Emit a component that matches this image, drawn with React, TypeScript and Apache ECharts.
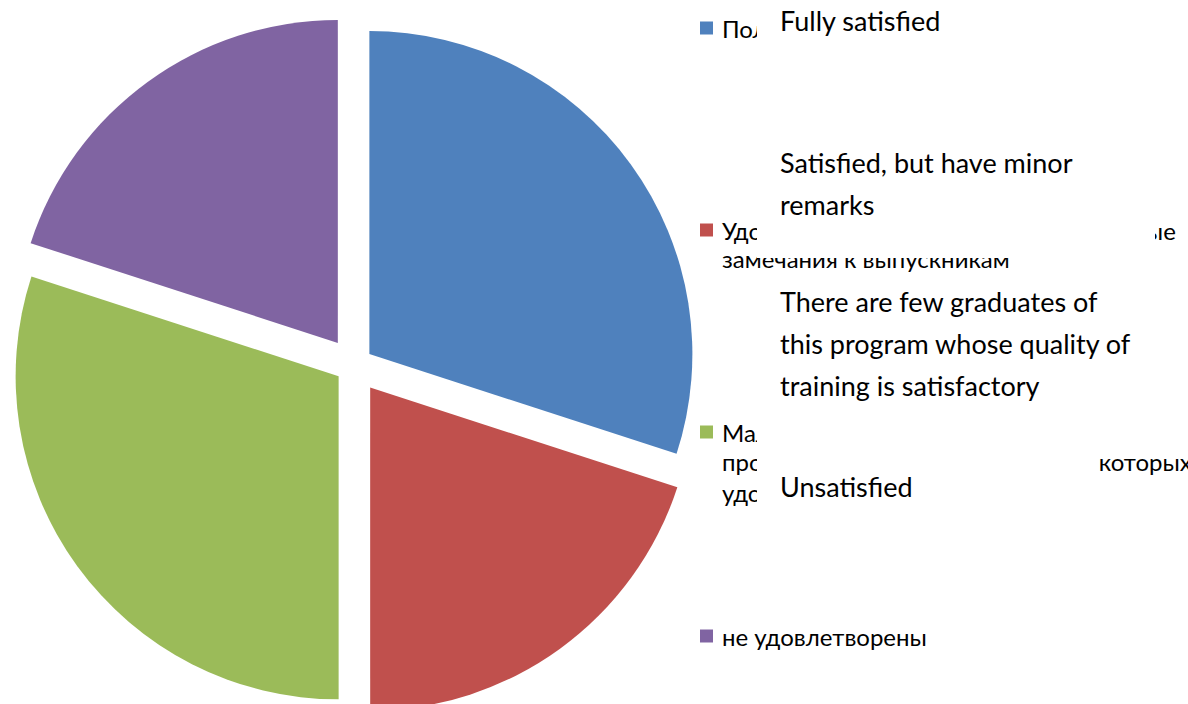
import React, { useEffect, useRef } from 'react';
import * as echarts from 'echarts';

// ---- data ----
const categories = [
  'Полностью удовлетворены',
  'Удовлетворены, но есть незначительные замечания к выпускникам',
  'Мало выпускников данной программы, качество подготовки которых удовлетворяет всем требованиям',
  'не удовлетворены',
];
const legendLines = [
  ['Полностью удовлетворены'],
  ['Удовлетворены, но есть незначительные', 'замечания к выпускникам'],
  ['Мало выпускников данной', 'программы, качество подготовки которых', 'удовлетворяет всем требованиям'],
  ['не удовлетворены'],
];
const values = [30, 20, 30, 20];
const colors = ['#4F81BD', '#C0504D', '#9BBB59', '#8064A2'];
const explode = [19, 27.5, 19, 27.5];
const englishLabels = [
  'Fully satisfied',
  'Satisfied, but have minor\nremarks',
  'There are few graduates of\nthis program whose quality of\ntraining is satisfactory',
  'Unsatisfied',
];

const FONT = "Lato, 'Noto Sans', sans-serif";
const LEG_SIZE = 24;

export default function App() {
  const ref = useRef<HTMLDivElement>(null);
  useEffect(() => {
    if (!ref.current) return;
    const chart = echarts.init(ref.current, undefined, { renderer: 'svg' });

    const offsets = Array.from(new Set(explode));
    const series = offsets.map((o) => ({
      type: 'pie',
      center: [354, 365.2],
      radius: 323,
      startAngle: 90,
      clockwise: true,
      silent: true,
      selectedMode: 'multiple',
      selectedOffset: o,
      avoidLabelOverlap: false,
      label: { show: false },
      labelLine: { show: false },
      emphasis: { disabled: true },
      itemStyle: { borderWidth: 0 },
      data: categories.map((c, i) =>
        explode[i] === o
          ? { name: c, value: values[i], selected: true, itemStyle: { color: colors[i], borderWidth: 0 } }
          : { name: '_hidden_' + i, value: values[i], itemStyle: { color: 'rgba(0,0,0,0)', borderWidth: 0 } }
      ),
    }));

    // one legend per entry so each can sit at its own slot
    const iconCenters = [28, 230, 432, 636];
    const legends = categories.map((c, i) => ({
      orient: 'vertical',
      left: 700,
      top: iconCenters[i] - LEG_SIZE / 2,
      padding: 0,
      itemWidth: 13,
      itemHeight: 13,
      icon: 'rect',
      selectedMode: false,
      data: [{ name: c, itemStyle: { color: colors[i] } }],
      formatter: (name: string) => legendLines[categories.indexOf(name)][0],
      textStyle: {
        fontFamily: FONT,
        fontSize: LEG_SIZE,
        color: '#000',
        lineHeight: LEG_SIZE,
        padding: [0, 0, 0, 4],
      },
    }));

    const graphics: any[] = [];
    // continuation lines of legend texts
    const contCenters = [[], [258.7], [461.7, 492.7], []];
    legendLines.forEach((lines, i) => {
      lines.slice(1).forEach((ln, j) => {
        graphics.push({
          type: 'text',
          x: 722,
          y: contCenters[i][j],
          z: 50,
          style: {
            text: ln,
            fontFamily: FONT,
            fontSize: LEG_SIZE,
            fill: '#000',
            align: 'left',
            verticalAlign: 'middle',
            textAlign: 'left',
            textVerticalAlign: 'middle',
          },
        });
      });
    });
    // white boxes covering the legend
    const boxes = [
      [757, 0, 431, 60],
      [757, 140, 398, 118],
      [757, 280, 431, 125],
      [757, 415, 341, 100],
    ];
    boxes.forEach((b) => {
      graphics.push({
        type: 'rect',
        z: 100,
        shape: { x: b[0], y: b[1], width: b[2], height: b[3] },
        style: { fill: '#ffffff', stroke: null },
      });
    });
    const englishTops = [-0.5, 141, 280, 465.5];
    englishLabels.forEach((t, i) => {
      graphics.push({
        type: 'text',
        x: 780,
        y: englishTops[i],
        z: 101,
        style: {
          text: t,
          fontFamily: FONT,
          fontSize: 27,
          lineHeight: 42,
          fill: '#000',
          align: 'left',
          verticalAlign: 'top',
          textAlign: 'left',
          textVerticalAlign: 'top',
        },
      });
    });

    chart.setOption({
      animation: false,
      backgroundColor: '#ffffff',
      legend: legends,
      series,
      graphic: { elements: graphics },
    });
    return () => chart.dispose();
  }, []);
  return (
    <div
      ref={ref}
      style={{ position: 'fixed', left: 0, top: 0, width: 1188, height: 704, background: '#fff' }}
    />
  );
}
